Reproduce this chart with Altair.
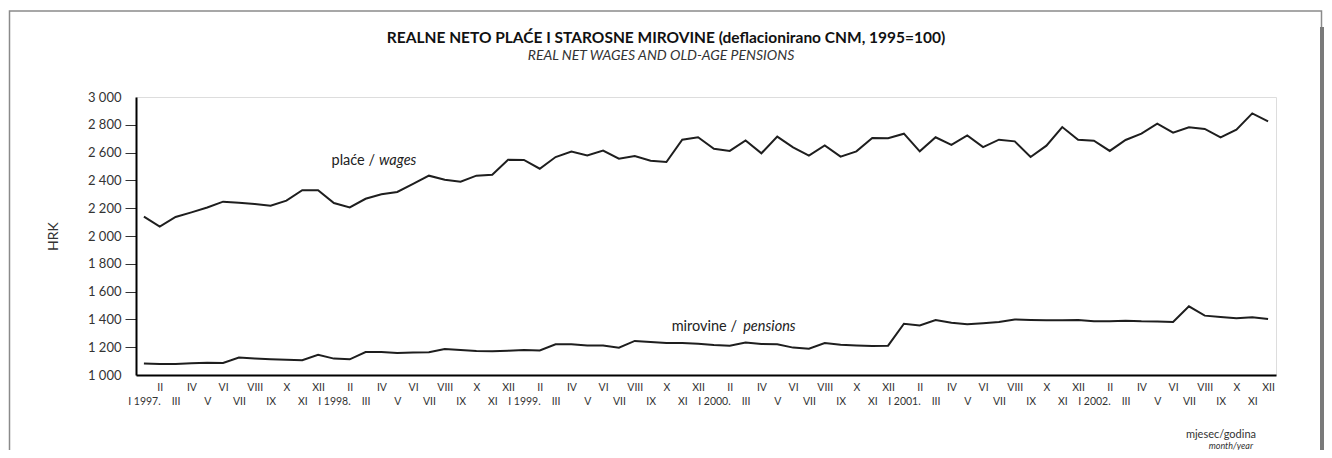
import json
import altair as alt
import pandas as pd

FONT = "Lato"

years = [1997, 1998, 1999, 2000, 2001, 2002]
months_roman = ["I", "II", "III", "IV", "V", "VI", "VII", "VIII", "IX", "X", "XI", "XII"]

wages = [
    2139, 2067, 2137, 2170, 2205, 2247, 2240, 2230, 2218, 2254, 2329, 2329,
    2237, 2206, 2268, 2300, 2317, 2375, 2434, 2405, 2391, 2434, 2441, 2549,
    2547, 2484, 2568, 2607, 2580, 2614, 2556, 2576, 2542, 2532, 2693, 2710,
    2628, 2612, 2688, 2595, 2715, 2638, 2578, 2652, 2571, 2609, 2705, 2703,
    2736, 2609, 2710, 2655, 2724, 2640, 2693, 2681, 2568, 2650, 2784, 2693,
    2686, 2612, 2691, 2736, 2808, 2743, 2782, 2770, 2710, 2765, 2882, 2825,
]
pensions = [
    1082, 1079, 1079, 1084, 1089, 1086, 1125, 1118, 1113, 1110, 1106, 1146,
    1118, 1113, 1165, 1165, 1158, 1161, 1163, 1187, 1180, 1173, 1170, 1175,
    1180, 1177, 1221, 1221, 1213, 1213, 1197, 1245, 1237, 1230, 1230, 1225,
    1216, 1211, 1233, 1223, 1221, 1197, 1189, 1230, 1218, 1213, 1209, 1211,
    1369, 1357, 1396, 1376, 1365, 1372, 1381, 1400, 1396, 1393, 1393, 1396,
    1386, 1386, 1391, 1386, 1384, 1381, 1494, 1427, 1417, 1408, 1415, 1403,
]

y_ticks = [1000, 1200, 1400, 1600, 1800, 2000, 2200, 2400, 2600, 2800, 3000]

# annotation labels: upright part and italic part, each left-aligned at its own x (month index)
ann_roman = ["plaće /", "mirovine /"]
ann_roman_x = [11.85, 33.33]
ann_italic = ["wages", "pensions"]
ann_italic_x = [14.85, 37.85]
ann_y = [2540, 1345]

title_text = "REALNE NETO PLAĆE I STAROSNE MIROVINE (deflacionirano CNM, 1995=100)"
subtitle_text = "REAL NET WAGES AND OLD-AGE PENSIONS"
xlabel_hr = "mjesec/godina"
xlabel_en = "month/year"
y_title = "HRK"

tick_labels = []
for yr in years:
    for k, m in enumerate(months_roman):
        tick_labels.append(f"{m} {yr}." if k == 0 else m)

n = len(wages)
idx = list(range(n))
df = pd.DataFrame({
    "i": idx + idx,
    "value": wages + pensions,
    "series": ["wages"] * n + ["pensions"] * n,
})
ann = pd.DataFrame({"xr": ann_roman_x, "xi": ann_italic_x, "y": ann_y,
                    "roman": ann_roman, "italic": ann_italic})

labs = json.dumps(tick_labels, ensure_ascii=False)
label_expr = f"datum.value % 2 == 1 ? [{labs}[datum.value]] : ['', {labs}[datum.value]]"

xscale = alt.Scale(domain=[-0.5, n - 0.5], nice=False, zero=False)
yscale = alt.Scale(domain=[1000, 3000], nice=False, zero=False)

x_axis = alt.Axis(
    values=idx, labelExpr=label_expr, ticks=False, grid=False,
    domainColor="#000", domainWidth=2, labelOverlap=False, labelFlush=False,
    labelFont=FONT, labelFontSize=10.5, labelColor="#333", labelPadding=7,
    labelLineHeight=14, title=None,
)
y_axis = alt.Axis(
    values=y_ticks, labelExpr="replace(format(datum.value, ','), ',', ' ')",
    title=y_title, titleFont=FONT, titleFontSize=14, titleFontWeight="normal",
    titleColor="#333", titlePadding=27, grid=False, tickSize=11, tickColor="#333",
    tickOpacity={"condition": {"test": "datum.value == 1000 || datum.value == 3000", "value": 0}, "value": 1},
    domainColor="#000", domainWidth=2, labelPadding=4, labelFont=FONT,
    labelFontSize=13, labelColor="#333", labelOverlap=False, labelFlush=False,
)

lines = alt.Chart(df).mark_line(color="#1e1e1e", strokeWidth=2).encode(
    x=alt.X("i:Q", scale=xscale, axis=x_axis),
    y=alt.Y("value:Q", scale=yscale, axis=y_axis),
    detail="series:N",
)

ann_r = alt.Chart(ann).mark_text(align="left", baseline="middle", font=FONT, fontSize=14.5,
                                 color="#222").encode(
    x=alt.X("xr:Q", scale=xscale, axis=x_axis),
    y=alt.Y("y:Q", scale=yscale, axis=y_axis),
    text="roman:N")
ann_i = alt.Chart(ann).mark_text(align="left", baseline="middle", font=FONT, fontSize=14.5,
                                 fontStyle="italic", color="#222").encode(
    x=alt.X("xi:Q", scale=xscale, axis=x_axis),
    y=alt.Y("y:Q", scale=yscale, axis=y_axis),
    text="italic:N")

one = alt.Data(values=[{"a": 1}])
frame = alt.Chart(one).mark_rect(filled=False, stroke="#8a8a8a", strokeWidth=1.5).encode(
    x=alt.value(-126.5), x2=alt.value(1185.5), y=alt.value(-86), y2=alt.value(420),
)
shadow = alt.Chart(one).mark_rect(color="#7a7a7a").encode(
    x=alt.value(1184), x2=alt.value(1188), y=alt.value(-70), y2=alt.value(420),
)
t1 = alt.Chart(one).mark_text(align="center", baseline="middle", font=FONT, fontSize=15.5,
                              fontWeight="bold", color="#111").encode(
    x=alt.value(530), y=alt.value(-59), text=alt.value(title_text))
t2 = alt.Chart(one).mark_text(align="center", baseline="middle", font=FONT, fontSize=14,
                              fontStyle="italic", color="#333").encode(
    x=alt.value(525), y=alt.value(-41), text=alt.value(subtitle_text))
xl1 = alt.Chart(one).mark_text(align="right", baseline="middle", font=FONT, fontSize=11,
                               color="#333").encode(
    x=alt.value(1120), y=alt.value(338), text=alt.value(xlabel_hr))
xl2 = alt.Chart(one).mark_text(align="right", baseline="middle", font=FONT, fontSize=9,
                               fontStyle="italic", color="#333").encode(
    x=alt.value(1117), y=alt.value(349), text=alt.value(xlabel_en))

chart = alt.layer(frame, shadow, lines, ann_r, ann_i, t1, t2, xl1, xl2).properties(
    width=1140, height=278,
    padding={"left": 128, "top": 89, "right": 48, "bottom": 75},
    autosize=alt.AutoSizeParams(type="none"),
).configure_view(stroke="#8a8a8a", strokeWidth=1).configure_axis(
    labelOverlap=False
).configure(background="white")

chart.save("out.html", embed_options={"renderer": "svg", "actions": False})
